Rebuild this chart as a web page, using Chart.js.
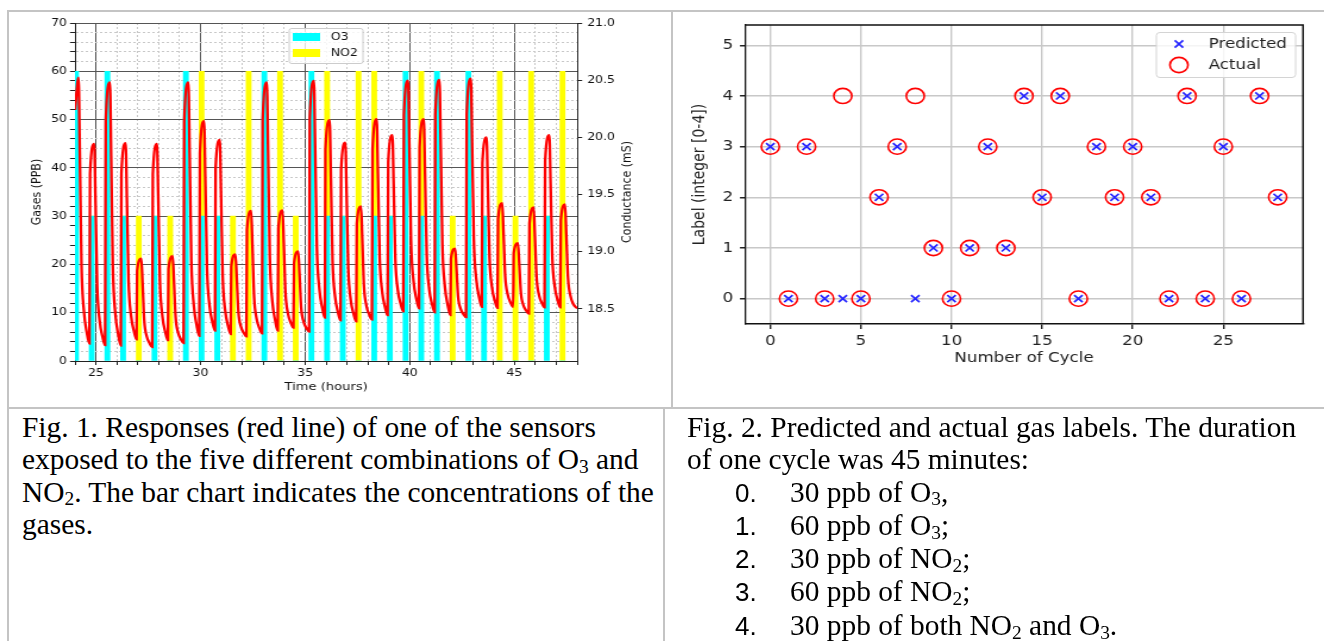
<!DOCTYPE html>
<html>
<head>
<meta charset="UTF-8">
<script src="https://cdn.jsdelivr.net/npm/chart.js"></script>
<style>
  html, body { margin: 0; padding: 0; background: #fff; }
  body { width: 1324px; height: 641px; overflow: hidden; position: relative; }
  /* the source figures were stretched sideways, so are these */
  canvas { position: absolute; top: 0; transform: scaleX(1.19); transform-origin: 0 0; }
  #fig1 { left: 0; }
  #fig2 { left: 672px; }
  .rule { position: absolute; background: #c4c4c4; }
  .cap {
    position: absolute; top: 411px;
    font-family: 'Liberation Serif', 'Times New Roman', serif;
    font-size: 29.4px; line-height: 32.3px; white-space: nowrap; color: #000;
  }
  .cap sub { font-size: 0.66em; vertical-align: baseline; position: relative; top: 0.2em; line-height: 0; }
  .cap .n {
    display: inline-block; width: 55px; margin-left: 48px;
    font-family: 'Liberation Sans', sans-serif; font-size: 26px;
  }
</style>
</head>
<body>
<canvas id="fig1" width="565" height="405"></canvas>
<canvas id="fig2" width="548" height="405"></canvas>

<div class="rule" style="left:7px; top:10px; width:1317px; height:2px"></div>
<div class="rule" style="left:7px; top:10px; width:2px; height:631px"></div>
<div class="rule" style="left:671px; top:10px; width:2px; height:398px"></div>
<div class="rule" style="left:7px; top:407px; width:1317px; height:2px"></div>
<div class="rule" style="left:663px; top:407px; width:2px; height:234px"></div>

<div class="cap" style="left:22px">
  Fig. 1. Responses (red line) of one of the sensors<br>
  exposed to the five different combinations of O<sub>3</sub> and<br>
  NO<sub>2</sub>. The bar chart indicates the concentrations of the<br>
  gases.
</div>
<div class="cap" style="left:687px">
  Fig. 2. Predicted and actual gas labels. The duration<br>
  of one cycle was 45 minutes:<br>
  <span class="n">0.</span>30 ppb of O<sub>3</sub>,<br>
  <span class="n">1.</span>60 ppb of O<sub>3</sub>;<br>
  <span class="n">2.</span>30 ppb of NO<sub>2</sub>;<br>
  <span class="n">3.</span>60 ppb of NO<sub>2</sub>;<br>
  <span class="n">4.</span>30 ppb of both NO<sub>2</sub> and O<sub>3</sub>.
</div>

<script>
// ---- Fig. 1 data ----
// centre of each gas exposure (hours), one cycle every 45 min
const exposureTime = [24.05, 24.80, 25.55, 26.30, 27.05, 27.80, 28.55, 29.30,
  30.05, 30.80, 31.55, 32.30, 33.05, 33.80, 34.55, 35.30, 36.05, 36.80, 37.55,
  38.30, 39.05, 39.80, 40.55, 41.30, 42.05, 42.80, 43.55, 44.30, 45.05, 45.80,
  46.55, 47.30];
const o3Ppb  = [60, 30, 60, 30, 0, 30, 0, 60, 30, 30, 0, 0, 60, 0, 0, 60,
  30, 30, 0, 30, 30, 60, 30, 60, 0, 60, 30, 0, 0, 0, 30, 0];
const no2Ppb = [0, 0, 0, 0, 30, 0, 30, 0, 30, 0, 30, 60, 0, 60, 30, 0,
  30, 0, 60, 30, 0, 0, 30, 0, 30, 0, 0, 60, 30, 60, 0, 60];

// sensor conductance [hours, mS]
const response = [
  [24.00, 20.240], [24.17, 20.523], [24.23, 19.872], [24.31, 18.895], [24.43, 18.476], [24.57, 18.290],
  [24.69, 18.197], [24.72, 19.682], [24.92, 19.944], [24.98, 19.451], [25.06, 18.712], [25.18, 18.395], [25.32, 18.254],
  [25.44, 18.184], [25.47, 20.136], [25.67, 20.481], [25.73, 19.837], [25.81, 18.870], [25.93, 18.456], [26.07, 18.272],
  [26.19, 18.180], [26.22, 19.684], [26.42, 19.949], [26.48, 19.469], [26.56, 18.749], [26.68, 18.441], [26.82, 18.304],
  [26.94, 18.235], [26.97, 18.834], [27.17, 18.940], [27.23, 18.724], [27.31, 18.399], [27.43, 18.260], [27.57, 18.198],
  [27.69, 18.167], [27.72, 19.677], [27.92, 19.944], [27.98, 19.463], [28.06, 18.742], [28.18, 18.433], [28.32, 18.296],
  [28.44, 18.227], [28.47, 18.851], [28.67, 18.961], [28.73, 18.748], [28.81, 18.429], [28.93, 18.292], [29.07, 18.231],
  [29.19, 18.201], [29.22, 20.139], [29.42, 20.481], [29.48, 19.860], [29.56, 18.929], [29.68, 18.530], [29.82, 18.353],
  [29.94, 18.264], [29.97, 19.861], [30.17, 20.143], [30.23, 19.630], [30.31, 18.861], [30.43, 18.531], [30.57, 18.384],
  [30.69, 18.311], [30.72, 19.728], [30.92, 19.978], [30.98, 19.503], [31.06, 18.790], [31.18, 18.485], [31.32, 18.349],
  [31.44, 18.281], [31.47, 18.873], [31.67, 18.978], [31.73, 18.777], [31.81, 18.475], [31.93, 18.346], [32.07, 18.289],
  [32.19, 18.260], [32.22, 19.193], [32.42, 19.358], [32.48, 19.058], [32.56, 18.608], [32.68, 18.415], [32.82, 18.329],
  [32.94, 18.286], [32.97, 20.152], [33.17, 20.481], [33.23, 19.873], [33.31, 18.962], [33.43, 18.571], [33.57, 18.398],
  [33.69, 18.311], [33.72, 19.204], [33.92, 19.362], [33.98, 19.075], [34.06, 18.644], [34.18, 18.459], [34.32, 18.377],
  [34.44, 18.336], [34.47, 18.903], [34.67, 19.003], [34.73, 18.807], [34.81, 18.512], [34.93, 18.386], [35.07, 18.330],
  [35.19, 18.302], [35.22, 20.164], [35.42, 20.493], [35.48, 19.914], [35.56, 19.045], [35.68, 18.673], [35.82, 18.508],
  [35.94, 18.425], [35.97, 19.892], [36.17, 20.151], [36.23, 19.661], [36.31, 18.925], [36.43, 18.610], [36.57, 18.470],
  [36.69, 18.400], [36.72, 19.720], [36.92, 19.953], [36.98, 19.516], [37.06, 18.860], [37.18, 18.578], [37.32, 18.453],
  [37.44, 18.391], [37.47, 19.245], [37.67, 19.396], [37.73, 19.119], [37.81, 18.704], [37.93, 18.527], [38.07, 18.448],
  [38.19, 18.408], [38.22, 19.897], [38.42, 20.160], [38.48, 19.680], [38.56, 18.960], [38.68, 18.652], [38.82, 18.515],
  [38.94, 18.446], [38.97, 19.784], [39.17, 20.020], [39.23, 19.589], [39.31, 18.942], [39.43, 18.665], [39.57, 18.542],
  [39.69, 18.480], [39.72, 20.194], [39.92, 20.497], [39.98, 19.939], [40.06, 19.103], [40.18, 18.744], [40.32, 18.585],
  [40.44, 18.505], [40.47, 19.912], [40.67, 20.160], [40.73, 19.687], [40.81, 18.978], [40.93, 18.674], [41.07, 18.539],
  [41.19, 18.471], [41.22, 20.197], [41.42, 20.502], [41.48, 19.926], [41.56, 19.063], [41.68, 18.693], [41.82, 18.528],
  [41.94, 18.446], [41.97, 18.941], [42.17, 19.028], [42.23, 18.860], [42.31, 18.609], [42.43, 18.501], [42.57, 18.453],
  [42.69, 18.429], [42.72, 20.201], [42.92, 20.514], [42.98, 19.955], [43.06, 19.117], [43.18, 18.758], [43.32, 18.598],
  [43.44, 18.518], [43.47, 19.777], [43.67, 19.999], [43.73, 19.582], [43.81, 18.956], [43.93, 18.688], [44.07, 18.569],
  [44.19, 18.509], [44.22, 19.288], [44.42, 19.425], [44.48, 19.171], [44.56, 18.790], [44.68, 18.627], [44.82, 18.554],
  [44.94, 18.518], [44.97, 18.991], [45.17, 19.075], [45.23, 18.903], [45.31, 18.644], [45.43, 18.533], [45.57, 18.484],
  [45.69, 18.459], [45.72, 19.248], [45.92, 19.387], [45.98, 19.143], [46.06, 18.776], [46.18, 18.619], [46.32, 18.549],
  [46.44, 18.514], [46.47, 19.794], [46.67, 20.020], [46.73, 19.598], [46.81, 18.966], [46.93, 18.695], [47.07, 18.574],
  [47.19, 18.514], [47.22, 19.278], [47.42, 19.413], [47.48, 19.159], [47.56, 18.777], [47.68, 18.614], [47.82, 18.541],
  [48.00, 18.505]
];

const ppbTicks  = [0, 10, 20, 30, 40, 50, 60, 70];
const hourTicks = [25, 30, 35, 40, 45];
const condTicks = [18.5, 19.0, 19.5, 20.0, 20.5, 21.0];

// ---- Fig. 2 data ----
const cycleNo = [0, 1, 2, 3, 4, 5, 6, 7, 8, 9, 10, 11, 12, 13, 14, 15, 16, 17,
  18, 19, 20, 21, 22, 23, 24, 25, 26, 27, 28];
const predictedLabel = [3, 0, 3, 0, 0, 0, 2, 3, 0, 1, 0, 1, 3, 1, 4, 2, 4, 0, 3, 2, 3, 2, 0, 4, 0, 3, 0, 4, 2];
const actualLabel    = [3, 0, 3, 0, 4, 0, 2, 3, 4, 1, 0, 1, 3, 1, 4, 2, 4, 0, 3, 2, 3, 2, 0, 4, 0, 3, 0, 4, 2];
const cycleTicks = [0, 5, 10, 15, 20, 25];
const labelTicks = [0, 1, 2, 3, 4, 5];

Chart.defaults.font.family = '"DejaVu Sans", sans-serif';
Chart.defaults.color = '#111';

const MAJOR = '#555';
const MINOR = '#c8c8c8';

// right axis title (matplotlib reads it bottom-to-top) + legend inside the axes
const fig1Extras = {
  id: 'fig1Extras',
  afterDraw(chart) {
    const { ctx, chartArea: a } = chart;
    ctx.save();
    ctx.font = '11px "DejaVu Sans"';
    ctx.fillStyle = '#111';
    ctx.textAlign = 'center';
    ctx.textBaseline = 'middle';
    ctx.translate(527, (a.top + a.bottom) / 2);
    ctx.rotate(-Math.PI / 2);
    ctx.fillText('Conductance (mS)', 0, 0);
    ctx.restore();

    ctx.save();
    ctx.fillStyle = 'rgba(255,255,255,0.8)';
    ctx.strokeStyle = '#cccccc';
    ctx.lineWidth = 1;
    ctx.beginPath();
    ctx.roundRect(243, 28.5, 62, 35, 2);
    ctx.fill();
    ctx.stroke();
    const rows = [37, 53];
    [1, 2].forEach((di, i) => {
      const ds = chart.data.datasets[di];
      ctx.fillStyle = ds.backgroundColor;
      ctx.fillRect(246, rows[i] - 4, 23, 8);
      ctx.fillStyle = '#111';
      ctx.font = '10.5px "DejaVu Sans"';
      ctx.textAlign = 'left';
      ctx.textBaseline = 'middle';
      ctx.fillText(ds.label, 278, rows[i]);
    });
    ctx.restore();
  }
};

new Chart(document.getElementById('fig1'), {
  type: 'bar',
  data: {
    datasets: [
      {
        type: 'line', label: 'Conductance', yAxisID: 'y2', order: 0,
        data: response.map(([x, y]) => ({ x, y })),
        borderColor: '#ff0000', borderWidth: 2.3, pointRadius: 0,
        cubicInterpolationMode: 'monotone'
      },
      {
        label: 'O3', yAxisID: 'y', order: 1,
        data: exposureTime.map((x, i) => ({ x, y: o3Ppb[i] })),
        backgroundColor: '#00ffff', barThickness: 4.2, borderWidth: 0
      },
      {
        label: 'NO2', yAxisID: 'y', order: 1,
        data: exposureTime.map((x, i) => ({ x, y: no2Ppb[i] })),
        backgroundColor: '#ffff00', barThickness: 4.2, borderWidth: 0
      }
    ]
  },
  options: {
    responsive: false, animation: false, devicePixelRatio: 1,
    layout: { padding: { top: 23, left: 0, right: 0, bottom: 0 } },
    plugins: { legend: { display: false }, tooltip: { enabled: false } },
    scales: {
      x: {
        type: 'linear', min: 24, max: 48, offset: false, stacked: true,
        grid: {
          offset: false, lineWidth: 1, tickLength: 4, tickColor: '#222',
          color: c => (c.tick && hourTicks.includes(c.tick.value)) ? MAJOR : MINOR
        },
        border: {
          color: '#222', width: 1,
          dash: c => (c.tick && !hourTicks.includes(c.tick.value)) ? [2, 2] : []
        },
        ticks: {
          stepSize: 1, autoSkip: false, maxRotation: 0, padding: 2,
          font: { size: 10.5 }, color: '#111',
          callback: v => hourTicks.includes(v) ? String(v) : ''
        },
        title: { display: true, text: 'Time (hours)', font: { size: 11 }, color: '#111',
                 padding: { top: 0, bottom: 11 } },
        afterFit: s => { s.height = 44; }
      },
      y: {
        type: 'linear', position: 'left', min: 0, max: 70, stacked: true,
        grid: {
          lineWidth: 1, tickLength: 4.2, tickColor: '#222',
          color: c => (c.tick && ppbTicks.includes(c.tick.value)) ? MAJOR : MINOR
        },
        border: {
          color: '#222', width: 1,
          dash: c => (c.tick && !ppbTicks.includes(c.tick.value)) ? [2, 2] : []
        },
        ticks: {
          stepSize: 2, autoSkip: false, padding: 2.5,
          font: { size: 10.5 }, color: '#111',
          callback: v => ppbTicks.includes(v) ? String(v) : ''
        },
        title: { display: true, text: 'Gases (PPB)', font: { size: 11 }, color: '#111',
                 padding: { top: 24.5, bottom: 0 } },
        afterFit: s => { s.width = 63; }
      },
      y2: {
        type: 'linear', position: 'right', min: 18.045, max: 21.0,
        grid: { drawOnChartArea: false, tickLength: 4.2, tickColor: '#222' },
        border: { color: '#222', width: 1 },
        afterBuildTicks: s => { s.ticks = condTicks.map(v => ({ value: v })); },
        ticks: { padding: 4.2, font: { size: 10.5 }, color: '#111', callback: v => v.toFixed(1) },
        afterFit: s => { s.width = 80; }
      }
    }
  },
  plugins: [fig1Extras]
});

// top/right spines + legend for Fig. 2
const fig2Extras = {
  id: 'fig2Extras',
  afterDraw(chart) {
    const { ctx, chartArea: a } = chart;
    ctx.save();
    ctx.strokeStyle = '#111';
    ctx.lineWidth = 1.5;
    ctx.beginPath();
    ctx.moveTo(a.left, a.top);
    ctx.lineTo(a.right, a.top);
    ctx.lineTo(a.right, a.bottom);
    ctx.stroke();

    ctx.fillStyle = 'rgba(255,255,255,0.8)';
    ctx.strokeStyle = '#d4d4d4';
    ctx.lineWidth = 1;
    ctx.beginPath();
    ctx.roundRect(407, 32.5, 117, 45, 3);
    ctx.fill();
    ctx.stroke();

    const rows = [44, 65];
    chart.data.datasets.forEach((ds, i) => {
      const x = 426, y = rows[i];
      ctx.strokeStyle = ds.pointBorderColor;
      ctx.lineWidth = ds.pointBorderWidth;
      ctx.beginPath();
      if (ds.pointStyle === 'crossRot') {
        const h = ds.pointRadius * 0.707;
        ctx.moveTo(x - h, y - h); ctx.lineTo(x + h, y + h);
        ctx.moveTo(x + h, y - h); ctx.lineTo(x - h, y + h);
      } else {
        ctx.arc(x, y, ds.pointRadius, 0, Math.PI * 2);
      }
      ctx.stroke();
      ctx.fillStyle = '#222';
      ctx.font = '14px "DejaVu Sans"';
      ctx.textAlign = 'left';
      ctx.textBaseline = 'middle';
      ctx.fillText(ds.label, 451, y);
    });
    ctx.restore();
  }
};

new Chart(document.getElementById('fig2'), {
  type: 'scatter',
  data: {
    datasets: [
      {
        label: 'Predicted',
        data: cycleNo.map((x, i) => ({ x, y: predictedLabel[i] })),
        pointStyle: 'crossRot', pointRadius: 5, pointBorderWidth: 1.7,
        pointBorderColor: '#2424ff', pointBackgroundColor: '#2424ff'
      },
      {
        label: 'Actual',
        data: cycleNo.map((x, i) => ({ x, y: actualLabel[i] })),
        pointStyle: 'circle', pointRadius: 7.6, pointBorderWidth: 1.6,
        pointBorderColor: '#ff0000', pointBackgroundColor: 'rgba(0,0,0,0)'
      }
    ]
  },
  options: {
    responsive: false, animation: false, devicePixelRatio: 1,
    layout: { padding: { top: 25, left: 0, right: 17.7, bottom: 0 } },
    plugins: { legend: { display: false }, tooltip: { enabled: false } },
    scales: {
      x: {
        type: 'linear', min: -1.4, max: 29.4,
        afterBuildTicks: s => { s.ticks = cycleTicks.map(v => ({ value: v })); },
        grid: { color: '#c8c8c8', lineWidth: 1.4, tickLength: 5, tickColor: '#222' },
        border: { color: '#111', width: 1.4 },
        ticks: { padding: 4, font: { size: 14 }, color: '#222', maxRotation: 0 },
        title: { display: true, text: 'Number of Cycle', font: { size: 14 }, color: '#222',
                 padding: { top: 0, bottom: 38 } },
        afterFit: s => { s.height = 81; }
      },
      y: {
        type: 'linear', min: -0.5, max: 5.4,
        afterBuildTicks: s => { s.ticks = labelTicks.map(v => ({ value: v })); },
        grid: { color: '#c8c8c8', lineWidth: 1.5, tickLength: 4.2, tickColor: '#222' },
        border: { color: '#111', width: 1.3 },
        ticks: { padding: 5.8, font: { size: 14 }, color: '#222' },
        title: { display: true, text: 'Label (integer [0-4])', font: { size: 14 }, color: '#222',
                 padding: { top: 15, bottom: 0 } },
        afterFit: s => { s.width = 61.3; }
      }
    }
  },
  plugins: [fig2Extras]
});
</script>
</body>
</html>
